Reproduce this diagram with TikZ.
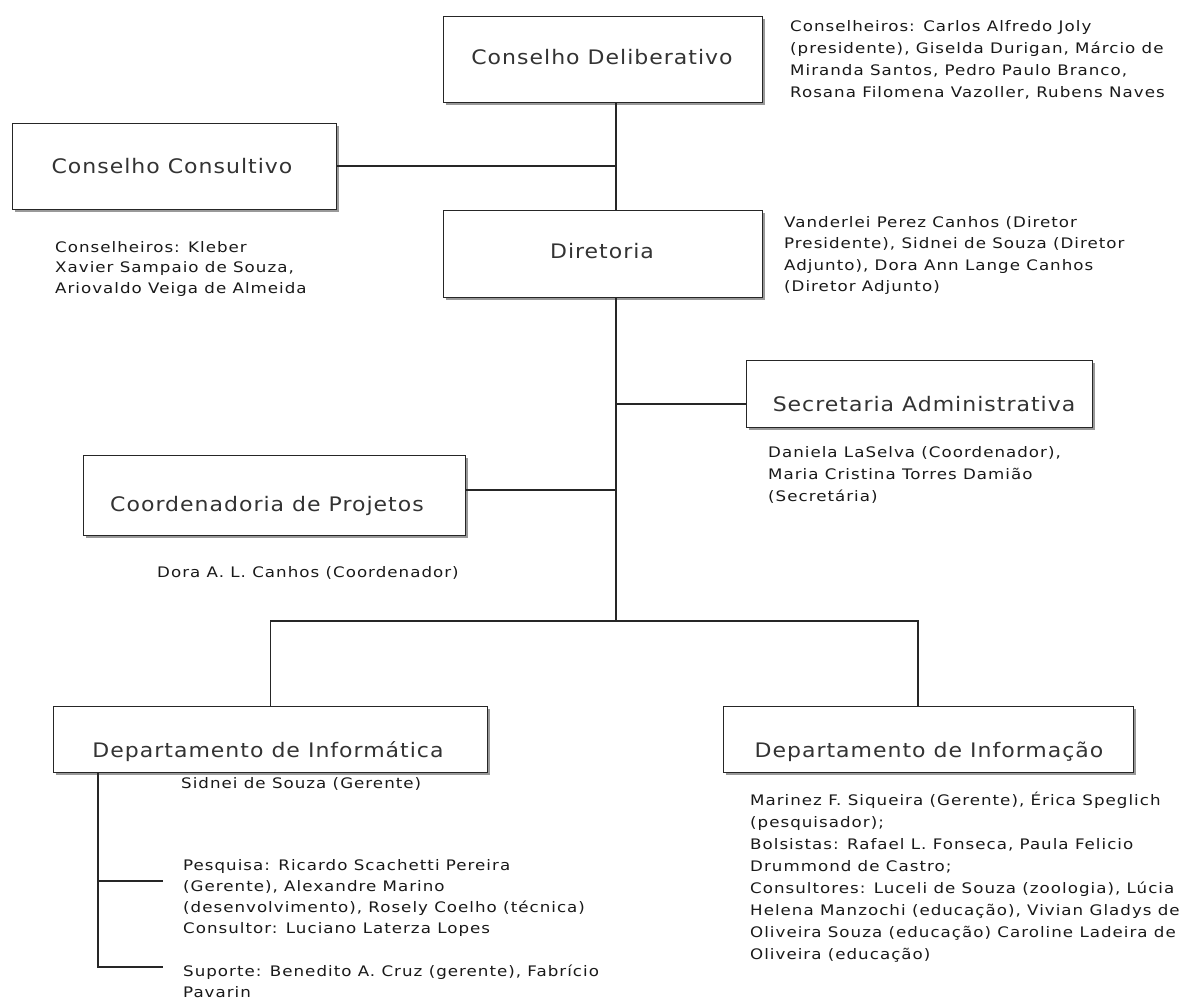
\documentclass[tikz,border=0pt]{standalone}
\usepackage{fontspec}
\setmainfont{DejaVu Sans}
\newfontfamily\notefont{DejaVu Sans}[FakeStretch=1.15,LetterSpace=7]
\newfontfamily\boxfont{DejaVu Sans}[FakeStretch=1.1,LetterSpace=5]
\usetikzlibrary{shadows}
\begin{document}
\begin{tikzpicture}[x=1pt,y=-1pt,
  box/.style={draw=black!85, line width=1.4pt, fill=white, rectangle, inner sep=0pt, anchor=north west,
    drop shadow={shadow xshift=2.5pt, shadow yshift=-2.5pt, fill=black!40, opacity=1}},
  boxlabel/.style={font=\boxfont\fontsize{20}{24}\selectfont, text=black!80, inner sep=0pt, anchor=base},
  note/.style={font=\notefont\fontsize{14.5}{22}\selectfont, text=black!90, inner sep=0pt, anchor=north west, align=left},
  link/.style={draw=black!85, line width=1.3pt}]
\fill[white] (0,0) rectangle (1190,1002);
\useasboundingbox (0,0) rectangle (1190,1002);

% boxes
\node[box, minimum width=319pt, minimum height=86pt] (cd) at (443,16) {};
\node[box, minimum width=324pt, minimum height=86pt] (cc) at (12,123) {};
\node[box, minimum width=319pt, minimum height=87pt] (dir) at (443,210) {};
\node[box, minimum width=346pt, minimum height=67pt] (sa) at (746,360) {};
\node[box, minimum width=382pt, minimum height=80pt] (cp) at (83,455) {};
\node[box, minimum width=434pt, minimum height=66pt] (di) at (53,706) {};
\node[box, minimum width=410pt, minimum height=66pt] (dinf) at (723,706) {};

% box labels
\node[boxlabel] (cdL) at (602,64) {Conselho Deliberativo};
\node[boxlabel] (ccL) at (172,173) {Conselho Consultivo};
\node[boxlabel] (dirL) at (602,258) {Diretoria};
\node[boxlabel] (saL) at (924,411) {Secretaria Administrativa};
\node[boxlabel] (cpL) at (267,511) {Coordenadoria de Projetos};
\node[boxlabel] (diL) at (268,757) {Departamento de Informática};
\node[boxlabel] (dinfL) at (929,757) {Departamento de Informação};

% connector points
\coordinate (j1) at (616,166);
\coordinate (j2) at (616,404);
\coordinate (j3) at (616,490);
\coordinate (j4) at (616,621);
\coordinate (j5) at (918,621);
\coordinate (v) at (98,0);
\coordinate (s1) at (163,881);
\coordinate (s2) at (163,967);

\draw[link] (cd.south -| j1) -- (dir.north -| j1);
\draw[link] (cc.east |- j1) -- (j1);
\draw[link] (dir.south -| j4) -- (j4);
\draw[link] (sa.west |- j2) -- (j2);
\draw[link] (cp.east |- j3) -- (j3);
\draw[link] (di.north) -- (di.north |- j4) -- (j5) -- (dinf.north -| j5);
\draw[link] (di.south -| v) -- (s2 -| v) -- (s2);
\draw[link] (s1 -| v) -- (s1);

% notes
\node[note] (ncd) at (790,16) {\strut Conselheiros: Carlos Alfredo Joly\\(presidente), Giselda Durigan, Márcio de\\Miranda Santos, Pedro Paulo Branco,\\Rosana Filomena Vazoller, Rubens Naves};
\node[note, font=\notefont\fontsize{14.5}{20.5}\selectfont] (ncc) at (55,237.6) {\strut Conselheiros: Kleber\\Xavier Sampaio de Souza,\\Ariovaldo Veiga de Almeida};
\node[note, font=\notefont\fontsize{14.5}{21.5}\selectfont] (ndir) at (784,212) {\strut Vanderlei Perez Canhos (Diretor\\Presidente), Sidnei de Souza (Diretor\\Adjunto), Dora Ann Lange Canhos\\(Diretor Adjunto)};
\node[note] (nsa) at (768,441.6) {\strut Daniela LaSelva (Coordenador),\\Maria Cristina Torres Damião\\(Secretária)};
\node[note] (ncp) at (157,561.6) {\strut Dora A. L. Canhos (Coordenador)};
\node[note] (nsid) at (181,773) {\strut Sidnei de Souza (Gerente)};
\node[note, font=\notefont\fontsize{14.5}{21}\selectfont] (npes) at (183,855.3) {\strut Pesquisa: Ricardo Scachetti Pereira\\(Gerente), Alexandre Marino\\(desenvolvimento), Rosely Coelho (técnica)\\Consultor: Luciano Laterza Lopes};
\node[note, font=\notefont\fontsize{14.5}{21}\selectfont] (nsup) at (183,961.3) {\strut Suporte: Benedito A. Cruz (gerente), Fabrício\\Pavarin};
\node[note] (ninf) at (750,789.6) {\strut Marinez F. Siqueira (Gerente), Érica Speglich\\(pesquisador);\\Bolsistas: Rafael L. Fonseca, Paula Felicio\\Drummond de Castro;\\Consultores: Luceli de Souza (zoologia), Lúcia\\Helena Manzochi (educação), Vivian Gladys de\\Oliveira Souza (educação) Caroline Ladeira de\\Oliveira (educação)};
\end{tikzpicture}
\end{document}
